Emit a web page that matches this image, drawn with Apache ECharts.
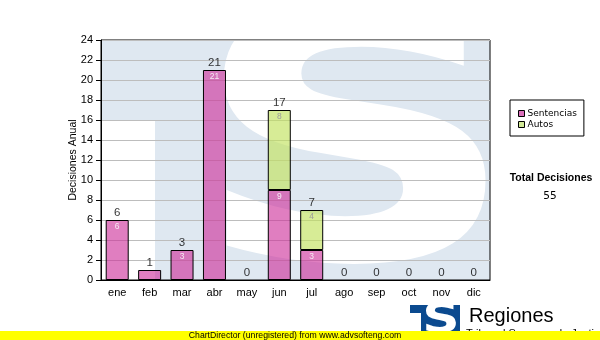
<!DOCTYPE html>
<html>
<head>
<meta charset="utf-8">
<script src="https://cdn.jsdelivr.net/npm/echarts@6/dist/echarts.min.js"></script>
<style>
html,body{margin:0;padding:0;background:#fff;}
#c{width:600px;height:340px;}
</style>
</head>
<body>
<div id="c"></div>
<script>
const months = ['ene','feb','mar','abr','may','jun','jul','ago','sep','oct','nov','dic'];
const sentencias = [6, 1, 3, 21, 0, 9, 3, 0, 0, 0, 0, 0];
const autos = [0, 0, 0, 0, 0, 8, 4, 0, 0, 0, 0, 0];
const totales = [6, 1, 3, 21, 0, 17, 7, 0, 0, 0, 0, 0];
const yTicks = [0, 24, 2];
const totalDecisiones = '55';

const chart = echarts.init(document.getElementById('c'), null, {renderer: 'canvas'});
const GL = 101, GT = 40, GW = 389, GH = 240;
const wm = '#dfe8f1';

const option = {
  backgroundColor: '#fff',
  animation: false,
  grid: {left: GL, top: GT, width: GW, height: GH, show: true, borderColor: '#000', borderWidth: 1, backgroundColor: 'transparent'},
  legend: {
    data: [
      {name: 'Sentencias', itemStyle: {color: '#da6fbb', borderColor: '#000', borderWidth: 1}},
      {name: 'Autos', itemStyle: {color: '#d2ea97', borderColor: '#000', borderWidth: 1}}
    ],
    orient: 'vertical', left: 510, top: 100,
    borderColor: '#000', borderWidth: 1, padding: [8, 7, 6, 8],
    itemWidth: 6, itemHeight: 6, itemGap: 0, icon: 'rect',
    textStyle: {fontSize: 9, fontFamily: 'DejaVu Sans', color: '#000', lineHeight: 11, padding: [0, 0, 0, -2]}
  },
  xAxis: {
    type: 'category', data: months,
    axisLine: {lineStyle: {color: '#000', width: 1}},
    axisTick: {alignWithLabel: true, length: 5, lineStyle: {color: '#000'}},
    axisLabel: {fontSize: 11, fontFamily: 'Liberation Sans', color: '#000', margin: 7}
  },
  yAxis: {
    type: 'value', min: yTicks[0], max: yTicks[1], interval: yTicks[2],
    name: 'Decisiones Anual', nameLocation: 'middle', nameGap: 22, nameMoveOverlap: false,
    nameTextStyle: {fontSize: 10.5, fontFamily: 'Liberation Sans', color: '#000'},
    axisLine: {show: true, lineStyle: {color: '#000', width: 1}},
    axisTick: {show: true, length: 5, lineStyle: {color: '#000'}},
    axisLabel: {fontSize: 11, fontFamily: 'Liberation Sans', color: '#000', margin: 8},
    splitLine: {lineStyle: {color: '#bdbdbd', width: 1}}
  },
  series: [
    {
      name: 'Sentencias', type: 'bar', stack: 'd', barWidth: 23,
      data: sentencias.map(v => v === 0 ? '-' : v),
      itemStyle: {color: 'rgba(205,47,153,0.62)', borderColor: '#000', borderWidth: 1},
      label: {show: true, position: 'insideTop', distance: 2, fontSize: 8.5, fontFamily: 'Liberation Sans',
        color: '#f6eaf3', formatter: p => p.value >= 2 ? String(p.value) : ''},
      z: 3
    },
    {
      name: 'Autos', type: 'bar', stack: 'd', barWidth: 23,
      data: autos.map(v => v === 0 ? '-' : v),
      itemStyle: {color: 'rgba(194,226,94,0.65)', borderColor: '#000', borderWidth: 1},
      label: {show: true, position: 'insideTop', distance: 2, fontSize: 8.5, fontFamily: 'Liberation Sans',
        color: '#9c9c9c', formatter: p => p.value >= 2 ? String(p.value) : ''},
      z: 3
    },
    {
      name: 'Total', type: 'scatter', data: totales, symbolSize: 1,
      itemStyle: {color: 'rgba(0,0,0,0)'},
      label: {show: true, position: 'top', distance: 1, fontSize: 11.5, fontFamily: 'Liberation Sans', color: '#000'},
      z: 5, silent: true
    }
  ],
  graphic: [
    // watermark
    {type: 'rect', z: -5, shape: {x: GL, y: GT, width: GW, height: GH}, style: {fill: wm}, silent: true},
    {type: 'rect', z: -4, shape: {x: GL, y: 120, width: 54, height: 160}, style: {fill: '#fff'}, silent: true},
    {type: 'text', z: -4, x: 355, y: 168, scaleX: 1.3, scaleY: 1,
      style: {text: 'S', fontSize: 350, fontWeight: 'bold', fontFamily: 'DejaVu Sans', fill: '#fff', align: 'center', verticalAlign: 'middle'}, silent: true},
    // masks outside plot
    {type: 'rect', z: -3, shape: {x: 0, y: 0, width: 600, height: GT}, style: {fill: '#fff'}, silent: true},
    {type: 'rect', z: -3, shape: {x: GL + GW, y: 0, width: 600 - GL - GW, height: 340}, style: {fill: '#fff'}, silent: true},
    {type: 'rect', z: -3, shape: {x: 0, y: GT + GH, width: 600, height: 340 - GT - GH}, style: {fill: '#fff'}, silent: true},
    {type: 'rect', z: -3, shape: {x: 0, y: 0, width: GL, height: 340}, style: {fill: '#fff'}, silent: true},
    // total text
    {type: 'text', z: 10, x: 551, y: 178, style: {text: 'Total Decisiones', fontSize: 10.5, fontWeight: 'bold', fontFamily: 'Liberation Sans', fill: '#000', align: 'center', verticalAlign: 'middle'}},
    {type: 'text', z: 10, x: 550, y: 196, style: {text: totalDecisiones, fontSize: 10.5, fontFamily: 'DejaVu Sans', fill: '#000', align: 'center', verticalAlign: 'middle'}},
    // logo
    {type: 'rect', z: 10, shape: {x: 410, y: 305, width: 50, height: 30}, style: {fill: '#0b4a8f'}},
    {type: 'rect', z: 11, shape: {x: 410, y: 313, width: 11, height: 25}, style: {fill: '#fff'}},
    {type: 'text', z: 11, x: 441, y: 322, scaleX: 1.3, style: {text: 'S', fontSize: 40, fontWeight: 'bold', fontFamily: 'DejaVu Sans', fill: '#fff', align: 'center', verticalAlign: 'middle'}},
    {type: 'rect', z: 12, shape: {x: 405, y: 300, width: 60, height: 5}, style: {fill: '#fff'}},
    {type: 'text', z: 12, x: 469, y: 316, style: {text: 'Regiones', fontSize: 20, fontFamily: 'Liberation Sans', fill: '#000', align: 'left', verticalAlign: 'middle'}},
    {type: 'text', z: 12, x: 466, y: 334, style: {text: 'Tribunal Supremo de Justicia', fontSize: 11, fontFamily: 'Liberation Sans', fill: '#000', align: 'left', verticalAlign: 'middle'}},
    // ChartDirector bar
    {type: 'rect', z: 20, shape: {x: 0, y: 331, width: 600, height: 9}, style: {fill: '#ffff00'}},
    {type: 'text', z: 21, x: 295, y: 335.5, style: {text: 'ChartDirector (unregistered) from www.advsofteng.com', fontSize: 8.7, fontFamily: 'Liberation Sans', fill: '#000', align: 'center', verticalAlign: 'middle'}}
  ]
};
chart.setOption(option);
</script>
</body>
</html>
